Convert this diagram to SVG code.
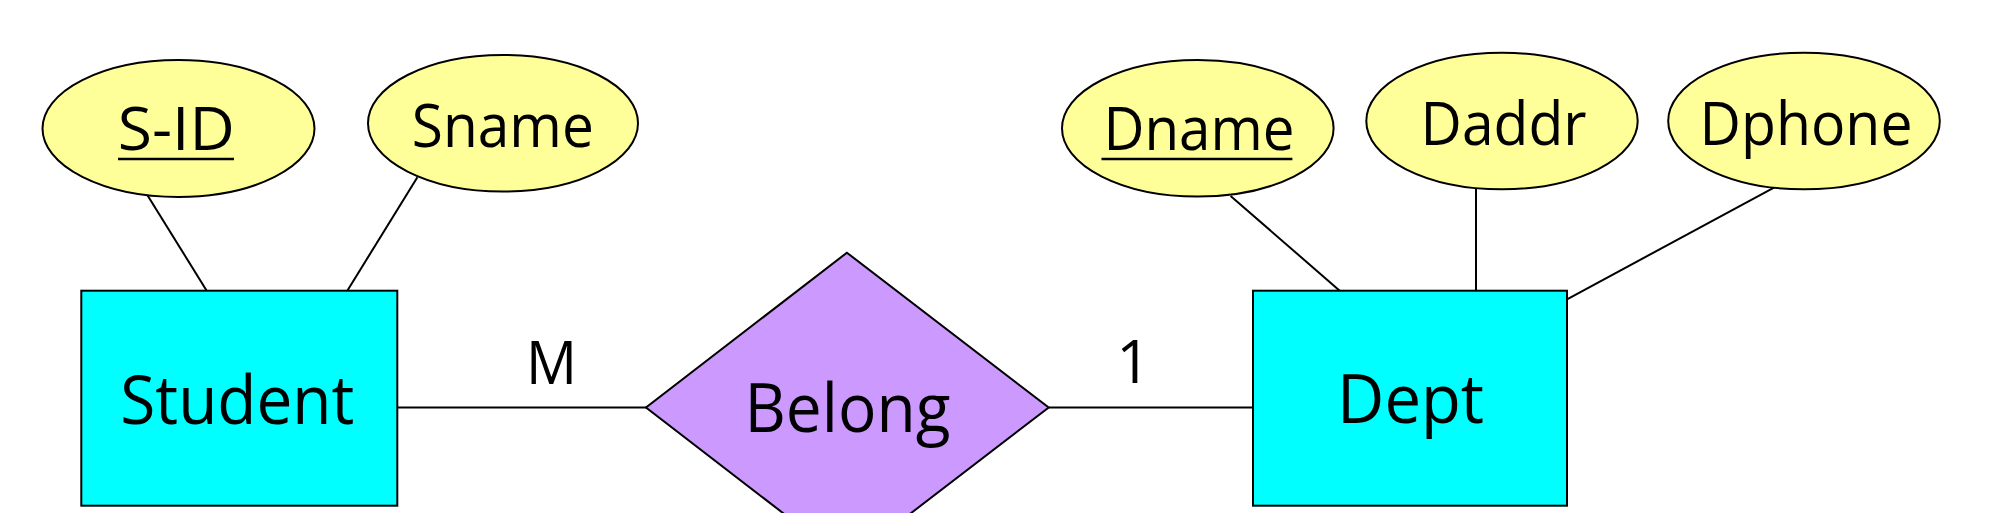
<svg xmlns="http://www.w3.org/2000/svg" width="2000" height="513" viewBox="0 0 2000 513">
<style>
.attr{fill:#FFFF99;stroke:#000;stroke-width:2}
.ent{fill:#00FFFF;stroke:#000;stroke-width:2}
.rel{fill:#CC99FF;stroke:#000;stroke-width:2}
.conn line{stroke:#000;stroke-width:2}
text{font-family:"Open Sans","Noto Sans","DejaVu Sans",sans-serif;fill:#000;text-anchor:middle}
.at{font-size:60px}
.et{font-size:67px}
.ul{stroke:#000;stroke-width:2.5}
</style>
<rect width="2000" height="513" fill="#fff"/>
<g id="connectors" class="conn">
<line x1="147.3" y1="195" x2="206.7" y2="290.7"/>
<line x1="417.4" y1="177.3" x2="347.3" y2="290.7"/>
<line x1="1230.6" y1="196" x2="1339.7" y2="290.7"/>
<line x1="1476" y1="188.7" x2="1476" y2="290.7"/>
<line x1="1785" y1="181.7" x2="1567" y2="299.3"/>
<line x1="397.3" y1="407.5" x2="646" y2="407.5"/>
<line x1="1048.7" y1="407.5" x2="1253" y2="407.5"/>
</g>
<g id="sid">
<ellipse class="attr" cx="178.5" cy="128.5" rx="136" ry="68.5"/>
<text class="at" x="176.3" y="150" textLength="117" lengthAdjust="spacingAndGlyphs">S-ID</text>
<line class="ul" x1="118" y1="159" x2="234" y2="159"/>
</g>
<g id="sname">
<ellipse class="attr" cx="503" cy="123.3" rx="135" ry="68.3"/>
<text class="at" x="502.8" y="146.7" textLength="182" lengthAdjust="spacingAndGlyphs">Sname</text>
</g>
<g id="student">
<rect class="ent" x="81.3" y="290.7" width="316" height="215"/>
<text class="et" x="237.3" y="424" textLength="234" lengthAdjust="spacingAndGlyphs">Student</text>
</g>
<g id="belong">
<polygon class="rel" points="846.9,252.7 1048.7,407.5 846.9,562.3 646,407.5"/>
<text class="et" x="847.5" y="432.3" textLength="206" lengthAdjust="spacingAndGlyphs">Belong</text>
</g>
<g id="dept">
<rect class="ent" x="1253" y="290.7" width="314" height="215"/>
<text class="et" x="1410.6" y="423.3" textLength="147" lengthAdjust="spacingAndGlyphs">Dept</text>
</g>
<g id="dname">
<ellipse class="attr" cx="1197.8" cy="128.3" rx="135.8" ry="68.3"/>
<text class="at" x="1199" y="150" textLength="191" lengthAdjust="spacingAndGlyphs">Dname</text>
<line class="ul" x1="1101.5" y1="159" x2="1292.4" y2="159"/>
</g>
<g id="daddr">
<ellipse class="attr" cx="1502" cy="121" rx="135.7" ry="68.3"/>
<text class="at" x="1503.6" y="145" textLength="166" lengthAdjust="spacingAndGlyphs">Daddr</text>
</g>
<g id="dphone">
<ellipse class="attr" cx="1804" cy="121" rx="135.8" ry="68.3"/>
<text class="at" x="1806" y="145" textLength="213" lengthAdjust="spacingAndGlyphs">Dphone</text>
</g>
<g id="labels">
<text class="at" x="551.5" y="384" textLength="51" lengthAdjust="spacingAndGlyphs">M</text>
<text class="at" x="1133.5" y="382.7">1</text>
</g>
</svg>
